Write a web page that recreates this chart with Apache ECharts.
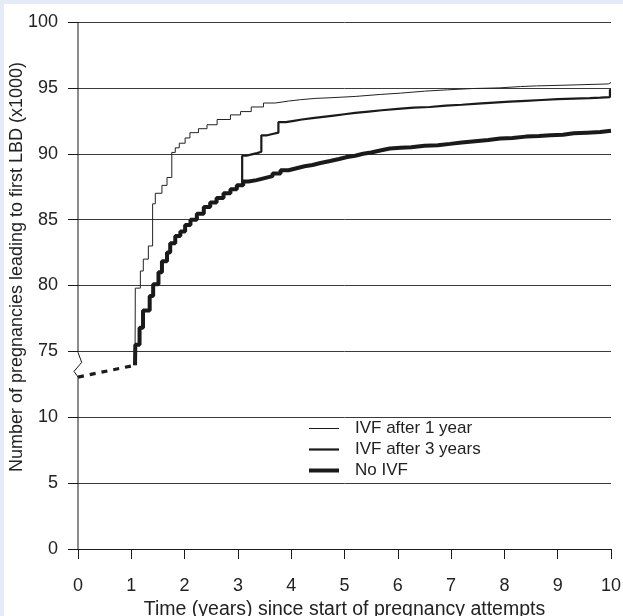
<!DOCTYPE html>
<html><head><meta charset="utf-8">
<script src="https://cdn.jsdelivr.net/npm/echarts@6/dist/echarts.min.js"></script>
<style>html,body{margin:0;padding:0;background:#e4ebf6;}#c{width:623px;height:616px;}</style>
</head><body><div id="c"></div>
<script>
// Y-axis tick labels (thousands) – axis is broken between 10 and 75
const yTickLabels = [0, 5, 10, 75, 80, 85, 90, 95, 100];
const xTickLabels = [0,1,2,3,4,5,6,7,8,9,10];
const seriesNames = ['IVF after 1 year', 'IVF after 3 years', 'No IVF'];

// Common baseline before IVF (dashed, in the axis break)
const baseX = [0, 1.07];
const baseY = [73.05, 73.95];

// IVF after 1 year (thin)
const ivf1X = [1.07, 1.075, 1.17, 1.225, 1.32, 1.40, 1.45, 1.575, 1.67, 1.76, 1.825, 1.9, 2.01, 2.1, 2.26, 2.42, 2.61, 2.86, 3.05, 3.25, 3.48, 3.7, 3.95, 4.17, 4.45, 4.73, 5.2, 5.67, 6.05, 6.5, 6.93, 7.4, 7.9, 8.3, 8.6, 9.1, 9.95, 10];
const ivf1Y = [73.95, 79.8, 81.1, 82.0, 83.0, 86.2, 87.0, 87.6, 88.2, 90.1, 90.45, 90.8, 91.2, 91.6, 91.9, 92.2, 92.6, 92.95, 93.2, 93.55, 93.85, 94.0, 94.1, 94.2, 94.25, 94.35, 94.5, 94.6, 94.75, 94.85, 94.95, 95.0, 95.1, 95.15, 95.2, 95.3, 95.4, 95.4];

// IVF after 3 years (medium) – follows No IVF until year 3
const ivf3X = [2.98, 3.08, 3.16, 3.26, 3.36, 3.44, 3.55, 3.65, 3.76, 3.9, 4.05, 4.2, 4.4, 4.6, 4.8, 5.0, 5.2, 5.45, 5.7, 6.0, 6.3, 6.6, 6.9, 7.2, 7.5, 7.8, 8.1, 8.4, 8.7, 9.0, 9.3, 9.6, 9.8, 9.98, 10];
const ivf3Y = [87.6, 89.85, 89.95, 90.05, 90.15, 91.4, 91.5, 91.6, 92.4, 92.5, 92.6, 92.7, 92.8, 92.9, 93.0, 93.1, 93.2, 93.3, 93.4, 93.5, 93.55, 93.65, 93.72, 93.8, 93.88, 93.95, 94.02, 94.08, 94.14, 94.18, 94.22, 94.26, 94.3, 94.85, 94.85];

// No IVF (thick)
const noIvfX = [1.07, 1.075, 1.155, 1.22, 1.345, 1.41, 1.51, 1.575, 1.67, 1.73, 1.825, 1.92, 2.01, 2.11, 2.23, 2.36, 2.48, 2.6, 2.73, 2.86, 2.98, 3.1, 3.2, 3.35, 3.5, 3.65, 3.8, 3.95, 4.1, 4.25, 4.4, 4.55, 4.73, 4.9, 5.05, 5.2, 5.35, 5.5, 5.67, 5.85, 6.05, 6.25, 6.5, 6.75, 6.98, 7.2, 7.45, 7.7, 7.92, 8.15, 8.4, 8.65, 8.86, 9.1, 9.3, 9.55, 9.8, 10];
const noIvfY = [73.95, 75.5, 76.8, 78.1, 79.2, 80.1, 81.0, 81.85, 82.5, 83.2, 83.75, 84.1, 84.6, 85.0, 85.45, 85.95, 86.3, 86.65, 87.0, 87.3, 87.6, 87.9, 88.0, 88.15, 88.3, 88.5, 88.75, 88.9, 89.05, 89.15, 89.3, 89.45, 89.6, 89.75, 89.85, 90.0, 90.1, 90.25, 90.4, 90.45, 90.5, 90.6, 90.65, 90.75, 90.85, 90.95, 91.05, 91.15, 91.2, 91.3, 91.35, 91.4, 91.45, 91.55, 91.6, 91.65, 91.75, 91.8];

// broken axis: values above 10 are shifted down by 60 (75 -> 15)
const BREAK_SHIFT = 60;
const toAxis = v => v > 10 ? v - BREAK_SHIFT : v;
const fromAxis = v => v > 10 ? v + BREAK_SHIFT : v;
const pts = (xs, ys) => xs.map((x, i) => [x, toAxis(ys[i])]);

const FONT = 'Liberation Sans, Arial, sans-serif';
const INK = '#1a1a1a';
const widths = [1, 2.2, 4];

const chart = echarts.init(document.getElementById('c'), null, {renderer: 'canvas'});
chart.setOption({
  backgroundColor: '#e4ebf6',
  animation: false,
  grid: {left: 78, right: 12, top: 22, bottom: 67, containLabel: false, outerBoundsMode: 'none'},
  legend: {
    orient: 'vertical', left: 307, top: 420, padding: 0,
    itemWidth: 30, itemHeight: 14, itemGap: 4,
    itemStyle: {opacity: 0},
    data: seriesNames.map((n, i) => ({name: n, lineStyle: {width: widths[i], color: INK}, itemStyle: {opacity: 0}})),
    textStyle: {fontFamily: FONT, fontSize: 17, color: '#222', padding: [0, 0, 0, 11]}
  },
  xAxis: {
    type: 'value', min: 0, max: 10, interval: 1,
    name: 'Time (years) since start of pregnancy attempts',
    nameLocation: 'middle', nameGap: 44,
    nameTextStyle: {fontFamily: FONT, fontSize: 19.5, color: '#222'},
    axisLine: {show: true, lineStyle: {color: INK, width: 1}},
    axisTick: {show: true, length: 10, lineStyle: {color: INK, width: 1}},
    axisLabel: {fontFamily: FONT, fontSize: 18, color: '#222', margin: 28,
      formatter: v => xTickLabels.includes(v) ? String(v) : ''},
    splitLine: {show: false}
  },
  yAxis: {
    type: 'value', min: 0, max: 40, interval: 5,
    axisLine: {show: false},
    axisTick: {show: true, length: 10, lineStyle: {color: INK, width: 1}},
    axisLabel: {fontFamily: FONT, fontSize: 18, color: '#222', margin: 20,
      formatter: v => { const r = fromAxis(v); return yTickLabels.includes(r) ? String(r) : ''; }},
    splitLine: {show: true, lineStyle: {color: '#3a3a3a', width: 1}}
  },
  series: [
    {name: 'baseline', type: 'line', symbol: 'none', data: pts(baseX, baseY),
      itemStyle: {color: INK}, lineStyle: {color: INK, width: 3.2, type: [6, 6]}, z: 3},
    {name: seriesNames[2], type: 'line', step: 'end', symbol: 'none', data: pts(noIvfX, noIvfY),
      itemStyle: {color: INK}, lineStyle: {color: INK, width: widths[2]}, z: 3},
    {name: seriesNames[1], type: 'line', step: 'end', symbol: 'none', data: pts(ivf3X, ivf3Y),
      itemStyle: {color: INK}, lineStyle: {color: INK, width: widths[1]}, z: 4},
    {name: seriesNames[0], type: 'line', step: 'end', symbol: 'none', data: pts(ivf1X, ivf1Y),
      itemStyle: {color: INK}, lineStyle: {color: '#222', width: widths[0]}, z: 5}
  ]
});

// decorations: white panel, y axis line with break zig-zag, rotated y-axis title
const px = v => chart.convertToPixel({gridIndex: 0}, [0, toAxis(v)]);
const pTop = px(100), p75 = px(75), pBrk = px(baseY[0]), pBot = px(0);
const ax0 = pTop[0];
chart.setOption({
  graphic: [
    {type: 'rect', z: -10, silent: true, shape: {x: 4, y: 4, width: 623, height: 616}, style: {fill: '#ffffff'}},
    {type: 'polyline', z: 10, silent: true,
      shape: {points: [[ax0, pTop[1]], [ax0, p75[1] + 1], [ax0 + 3.7, p75[1] + 11], [ax0 - 4, p75[1] + 20], [ax0, pBrk[1]], [ax0, pBot[1]]]},
      style: {stroke: INK, lineWidth: 1, fill: null}},
    {type: 'text', z: 10, silent: true, x: 17, y: 267, rotation: Math.PI / 2,
      style: {text: 'Number of pregnancies leading to first LBD (x1000)', fontFamily: FONT, fontSize: 18,
        fill: '#222', align: 'center', verticalAlign: 'middle'}}
  ]
});
</script></body></html>
